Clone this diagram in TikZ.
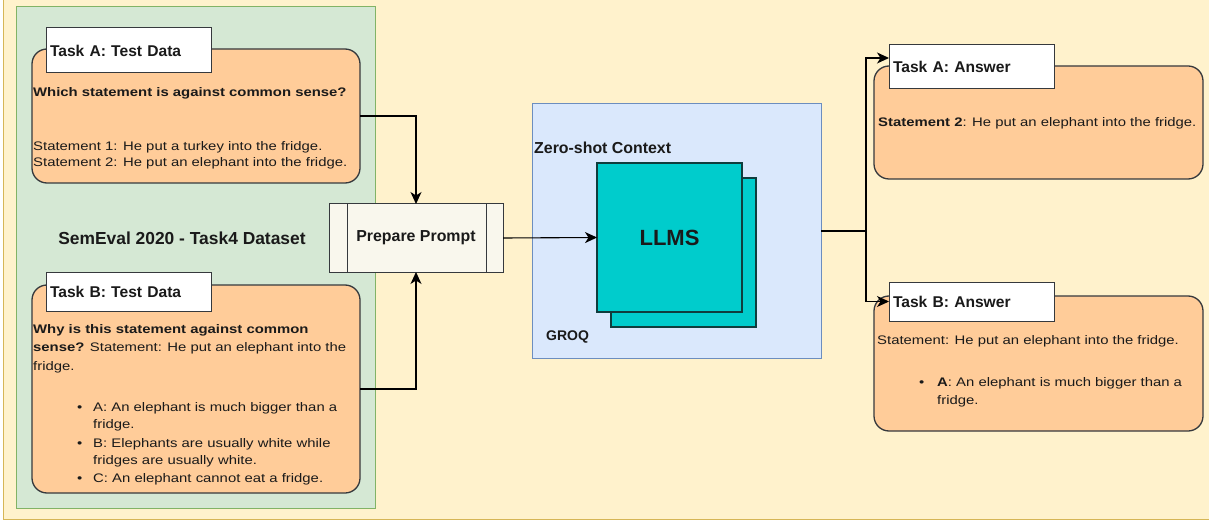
\documentclass[tikz,border=0pt]{standalone}
\usepackage{fontspec}
\setmainfont{Liberation Sans}
\newfontfamily\bodyf{Liberation Sans}[FakeStretch=1.2]
\usetikzlibrary{arrows.meta}
\definecolor{outerfill}{HTML}{FFF2CC}
\definecolor{outerline}{HTML}{D6B656}
\definecolor{greenfill}{HTML}{D5E8D4}
\definecolor{greenline}{HTML}{82B366}
\definecolor{orangefill}{HTML}{FFCC99}
\definecolor{darkline}{HTML}{36393D}
\definecolor{prepfill}{HTML}{F9F7ED}
\definecolor{bluefill}{HTML}{DAE8FC}
\definecolor{blueline}{HTML}{6C8EBF}
\definecolor{tealfill}{HTML}{00CCCC}
\definecolor{tealline}{HTML}{0F3D3D}
\definecolor{txt}{HTML}{1A1A1A}
\tikzset{
  box/.style={anchor=north west, inner sep=0pt, outer sep=0pt},
  orangebox/.style={box, draw=darkline, fill=orangefill, line width=1.3pt, rounded corners=15pt},
  labelbox/.style={box, draw=darkline, fill=white, line width=1pt, text width=157pt, align=left,
    inner xsep=4pt, font=\bfseries\fontsize{15.6}{17}\selectfont, text=txt},
  bodytext/.style={anchor=base west, inner sep=0pt, text=txt, font=\bodyf\fontsize{12.4}{18}\selectfont},
  headtext/.style={inner sep=0pt, text=txt, font=\bfseries},
  arr/.style={draw=black, line width=1.1pt, -{Stealth[length=12pt,width=11pt,inset=3.5pt]}},
  plainline/.style={draw=black, line width=1.1pt}
}
\begin{document}
\begin{tikzpicture}[x=1pt,y=-1pt]
\useasboundingbox (0,0) rectangle (1209,529);
\fill[white] (0,0) rectangle (1209,529);
% outer background
\node[box, draw=outerline, fill=outerfill, line width=1pt, minimum width=1215pt, minimum height=525pt] (bg) at (3,-6) {};
% green dataset container
\node[box, draw=greenline, fill=greenfill, line width=1pt, minimum width=359pt, minimum height=501pt] (ds) at (16,7) {};
\node[headtext, font=\bfseries\fontsize{17.4}{19}\selectfont] (dslabel) at (182,238) {SemEval 2020 - Task4 Dataset};

% Task A test data
\node[orangebox, minimum width=328pt, minimum height=134pt] (taskA) at (32,49) {};
\node[labelbox, minimum height=45pt] (taskAlbl) at (46,28) {Task A: Test Data};
\node[bodytext] (taskAq) at (33,97) {\bfseries Which statement is against common sense?};
\node[bodytext] (taskAs1) at (33,151) {Statement 1: He put a turkey into the fridge.};
\node[bodytext] (taskAs2) at (33,167) {Statement 2: He put an elephant into the fridge.};

% Task B test data
\node[orangebox, minimum width=328pt, minimum height=208pt] (taskB) at (32,285) {};
\node[labelbox, minimum height=39pt] (taskBlbl) at (46,272) {Task B: Test Data};
\node[bodytext] (taskBl1) at (33,333) {\bfseries Why is this statement against common};
\node[bodytext] (taskBl2) at (33,351.5) {\bfseries sense? \mdseries Statement: He put an elephant into the};
\node[bodytext] (taskBl3) at (33,370) {fridge.};
\node[bodytext] (bA) at (77,411) {\textbullet};
\node[bodytext] (bA1) at (93,411) {A: An elephant is much bigger than a};
\node[bodytext] (bA2) at (93,428.5) {fridge.};
\node[bodytext] (bB) at (77,447) {\textbullet};
\node[bodytext] (bB1) at (93,447) {B: Elephants are usually white while};
\node[bodytext] (bB2) at (93,464.5) {fridges are usually white.};
\node[bodytext] (bC) at (77,482) {\textbullet};
\node[bodytext] (bC1) at (93,482) {C: An elephant cannot eat a fridge.};

% Prepare prompt
\node[box, draw=darkline, fill=prepfill, line width=1pt, minimum width=174pt, minimum height=68pt] (prep) at (329,204) {};
\draw[darkline, line width=1pt] ([xshift=18pt]prep.north west) -- ([xshift=18pt]prep.south west);
\draw[darkline, line width=1pt] ([xshift=-17pt]prep.north east) -- ([xshift=-17pt]prep.south east);
\node[headtext, font=\bfseries\fontsize{15.9}{17}\selectfont] (preplabel) at (prep.center) {Prepare Prompt};

% Zero-shot context
\node[box, draw=blueline, fill=bluefill, line width=1pt, minimum width=289pt, minimum height=254pt] (ctx) at (532,104) {};
\node[headtext, anchor=base west, font=\bfseries\fontsize{15.9}{17}\selectfont] (ctxlabel) at (534,154) {Zero-shot Context};
\node[headtext, anchor=base west, font=\bfseries\fontsize{14}{15}\selectfont] (groq) at (546,340) {GROQ};
\node[box, draw=tealline, fill=tealfill, line width=1.2pt, minimum width=145pt, minimum height=149pt] (llmback) at (611,178) {};
\node[box, draw=tealline, fill=tealfill, line width=1.2pt, minimum width=145pt, minimum height=149pt] (llm) at (597,163) {};
\node[headtext, font=\bfseries\fontsize{22}{24}\selectfont] (llmlabel) at (llm.center) {LLMS};

% Task A answer
\node[orangebox, minimum width=329pt, minimum height=113pt] (ansA) at (874,66) {};
\node[labelbox, minimum height=44pt] (ansAlbl) at (889,45) {Task A: Answer};
\node[bodytext] (ansAt) at (878,127) {\bfseries Statement 2\mdseries: He put an elephant into the fridge.};

% Task B answer
\node[orangebox, minimum width=329pt, minimum height=135pt] (ansB) at (874,296) {};
\node[labelbox, minimum height=39pt] (ansBlbl) at (889,282) {Task B: Answer};
\node[bodytext] (ansBt) at (877,344) {Statement: He put an elephant into the fridge.};
\node[bodytext] (ansBb) at (919,386) {\textbullet};
\node[bodytext] (ansBb1) at (937,386) {\bfseries A\mdseries: An elephant is much bigger than a};
\node[bodytext] (ansBb2) at (937,404) {fridge.};

% connectors
\draw[arr] (taskA.east) -| (prep.north);
\draw[arr] (taskB.east) -| (prep.south);
\draw[arr] (prep.east) -- (llm.west);
\coordinate (split) at ([xshift=45pt]ctx.east);
\draw[plainline] (ctx.east) -- (split);
\draw[arr] (split) |- ([yshift=9pt]ansAlbl.west);
\draw[arr] (split) |- (ansBlbl.west);
\end{tikzpicture}
\end{document}
